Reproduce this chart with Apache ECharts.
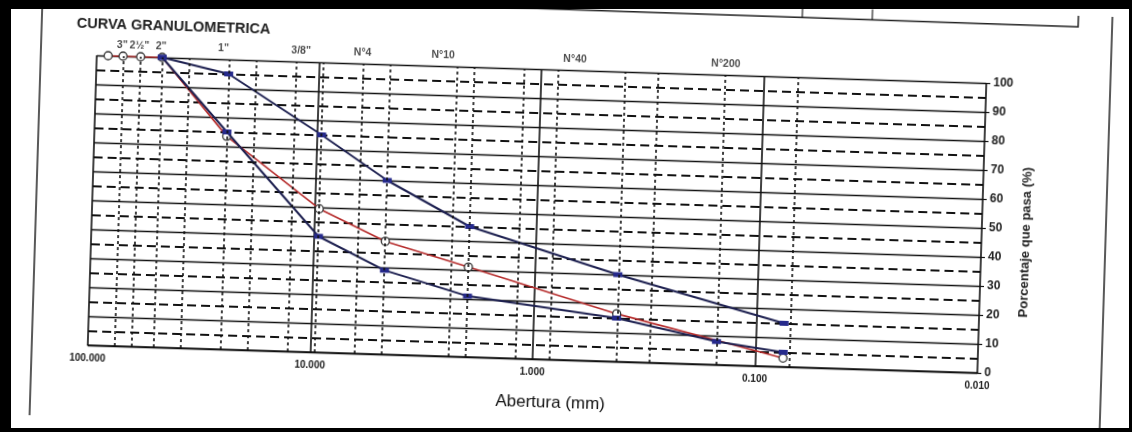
<!DOCTYPE html>
<html>
<head>
<meta charset="utf-8">
<title>Curva granulometrica</title>
<script src="https://cdn.jsdelivr.net/npm/echarts@6/dist/echarts.min.js"></script>
<style>
html, body { margin: 0; padding: 0; background: #fff; overflow: hidden; }
#page { position: relative; width: 1132px; height: 432px; overflow: hidden; background: #fff; }
/* la hoja escaneada esta algo girada */
#chart { position: absolute; left: 0; top: 0; width: 1132px; height: 432px; transform: rotate(1.78deg); transform-origin: 566px 216px; }
.bar { position: absolute; background: #000; }
</style>
</head>
<body>
<div id="page">
  <div id="chart"></div>
  <div class="bar" style="left:0;top:0;width:1132px;height:9px"></div>
  <div class="bar" style="left:0;top:0;width:11px;height:432px"></div>
  <div class="bar" style="left:0;top:428px;width:1132px;height:4px"></div>
  <div class="bar" style="left:1129px;top:0;width:3px;height:432px"></div>
</div>
<script>
// tamices (mm) donde van las lineas punteadas verticales
var sieveLines = [76.2, 63.5, 50.8, 38.1, 25.4, 19.05, 12.7, 9.525, 6.35, 4.76, 2.38, 2.0, 1.19, 0.84, 0.425, 0.3, 0.15, 0.075];

// rotulos de la parte superior y donde caen en el eje (mm)
var topLabels = ['3"', '2\u00BD"', '2"', '1"', '3/8"', 'N\u00B04', 'N\u00B010', 'N\u00B040', 'N\u00B0200'];
var topLabelPos = [77, 64.5, 51.5, 27, 12.1, 6.4, 2.78, 0.71, 0.149];

// curva del material (porcentaje que pasa)
var muestraX = [88.9, 76.2, 63.5, 50.8, 25.4, 9.525, 4.76, 2.0, 0.425, 0.075];
var muestraY = [100, 100, 100, 100, 73.5, 49.5, 39, 31, 16.5, 3];

// limites del huso
var husoSupX = [50.8, 25.4, 9.525, 4.76, 2.0, 0.425, 0.075];
var husoSupY = [100, 95, 75, 60, 45, 30, 15];
var husoInfX = [50.8, 25.4, 9.525, 4.76, 2.0, 0.425, 0.15, 0.075];
var husoInfY = [100, 75, 40, 29, 21, 15, 8, 5];

var FONT = '"Liberation Sans", Arial, sans-serif';

function pares(xs, ys) {
	var out = [];
	for (var i = 0; i < xs.length; i++) {
		out.push([xs[i], ys[i]]);
	}
	return out;
}

var rotulos = [];
for (var i = 0; i < topLabels.length; i++) {
	rotulos.push({ name: topLabels[i], value: [topLabelPos[i], 100] });
}

var option = {
	animation: false,
	backgroundColor: '#fff',
	title: {
		text: 'CURVA GRANULOMETRICA',
		left: 71,
		top: 31,
		padding: 0,
		textStyle: { fontSize: 14.5, fontWeight: 'bold', color: '#222', fontFamily: FONT }
	},
	grid: {
		left: 92,
		right: 150,
		top: 70,
		bottom: 72
	},
	xAxis: {
		type: 'log',
		logBase: 10,
		min: 0.01,
		max: 100,
		inverse: true,
		name: 'Abertura (mm)',
		nameLocation: 'middle',
		nameGap: 35,
		nameTextStyle: { fontSize: 17, color: '#111', fontFamily: FONT, padding: [0, 0, 0, 38] },
		axisLine: { show: true, lineStyle: { color: '#111', width: 1.5 } },
		axisTick: { show: false },
		axisLabel: {
			margin: 8,
			fontSize: 10,
			fontWeight: 'bold',
			color: '#222',
			fontFamily: FONT,
			formatter: function (v) { return Number(v).toFixed(3); }
		},
		splitLine: { show: true, lineStyle: { color: '#111', width: 1.6 } }
	},
	yAxis: {
		type: 'value',
		position: 'right',
		min: 0,
		max: 100,
		interval: 10,
		name: 'Porcentaje que pasa (%)',
		nameLocation: 'middle',
		nameRotate: 90,
		nameGap: 35,
		nameTextStyle: { fontSize: 13, fontWeight: 'bold', color: '#222', fontFamily: FONT, padding: [0, 26, 0, 0] },
		axisLine: { show: false },
		axisTick: { show: true, length: 4, lineStyle: { color: '#111', width: 1.2 } },
		axisLabel: { margin: 7, fontSize: 12, fontWeight: 'bold', color: '#222', fontFamily: FONT },
		splitLine: { show: true, lineStyle: { color: '#111', width: 1.3 } },
		minorTick: { show: false, splitNumber: 2 },
		minorSplitLine: { show: true, lineStyle: { color: '#111', width: 1.8, type: [9, 5] } }
	},
	graphic: [
		{ type: 'line', silent: true, shape: { x1: 36, y1: -40, x2: 36, y2: 480 }, style: { stroke: '#222', lineWidth: 1.5 } },
		{ type: 'line', silent: true, shape: { x1: 1106, y1: -40, x2: 1106, y2: 480 }, style: { stroke: '#222', lineWidth: 1.5 } },
		{ type: 'polyline', silent: true, shape: { points: [[-40, 8], [1072, 11], [1072, -40]] }, style: { stroke: '#222', lineWidth: 1.5, fill: null } },
		{ type: 'line', silent: true, shape: { x1: 796, y1: -40, x2: 796, y2: 10 }, style: { stroke: '#222', lineWidth: 1.2 } },
		{ type: 'line', silent: true, shape: { x1: 866, y1: -40, x2: 866, y2: 10 }, style: { stroke: '#222', lineWidth: 1.2 } }
	],
	series: [
		{
			name: 'tamices',
			type: 'scatter',
			symbolSize: 0,
			silent: true,
			clip: false,
			data: rotulos,
			label: {
				show: true,
				position: 'top',
				distance: 5,
				formatter: '{b}',
				fontSize: 10.5,
				fontWeight: 'bold',
				color: '#222',
				fontFamily: FONT
			},
			markLine: {
				silent: true,
				symbol: ['none', 'none'],
				label: { show: false },
				lineStyle: { color: '#111', type: [3, 3], width: 1.6 },
				data: sieveLines.map(function (v) { return { xAxis: v }; })
			},
			z: 1
		},
		{
			name: 'Muestra',
			type: 'line',
			data: pares(muestraX, muestraY),
			symbol: 'circle',
			symbolSize: 8,
			itemStyle: { color: '#fff', borderColor: '#333', borderWidth: 1.3 },
			lineStyle: { color: '#b52a2a', width: 1.6 },
			z: 3
		},
		{
			name: 'Huso superior',
			type: 'line',
			data: pares(husoSupX, husoSupY),
			symbol: 'rect',
			symbolSize: [9, 5],
			itemStyle: { color: '#262a8c' },
			lineStyle: { color: '#1d2050', width: 2 },
			z: 4
		},
		{
			name: 'Huso inferior',
			type: 'line',
			data: pares(husoInfX, husoInfY),
			symbol: 'rect',
			symbolSize: [9, 5],
			itemStyle: { color: '#262a8c' },
			lineStyle: { color: '#1d2050', width: 2 },
			z: 4
		}
	]
};

var chartDiv = document.getElementById('chart');
var chart = echarts.init(chartDiv);
chart.setOption(option);
</script>
</body>
</html>
